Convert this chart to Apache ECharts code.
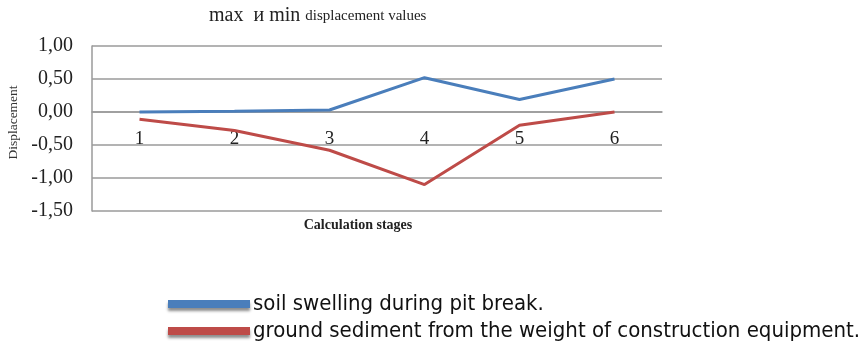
<!DOCTYPE html>
<html>
<head>
<meta charset="utf-8">
<script src="https://cdn.jsdelivr.net/npm/echarts@6/dist/echarts.min.js"></script>
<style>
  html, body { margin: 0; padding: 0; background: #fff; }
  #chart { width: 867px; height: 349px; }
</style>
</head>
<body>
<div id="chart"></div>
<script>
// Calculation stages along the horizontal axis
const stages = ['1', '2', '3', '4', '5', '6'];

// Displacement per stage
const swelling = [0.00, 0.01, 0.03, 0.52, 0.19, 0.50];
const sediment = [-0.11, -0.28, -0.58, -1.10, -0.20, 0.00];

const seriesNames = [
  'soil swelling during pit break.',
  'ground sediment from the weight of construction equipment.'
];

// Vertical axis ticks
const yTicks = [-1.5, -1.0, -0.5, 0.0, 0.5, 1.0];

const serif = '"Liberation Serif", "Times New Roman", serif';
const gridGray = '#9a9a9a';

const gridTop = 46;
const gridBottom = 138;
const chartHeight = 349;
const plotHeight = chartHeight - gridTop - gridBottom;
// lift the category axis from the bottom edge up to the zero line
const yMin = yTicks[0];
const yMax = yTicks[yTicks.length - 1];
const zeroLift = -plotHeight * (0 - yMin) / (yMax - yMin);

const chart = echarts.init(document.getElementById('chart'), null, { renderer: 'canvas' });

chart.setOption({
  animation: false,
  backgroundColor: '#ffffff',
  title: {
    text: '{big|max  и min} {small|displacement values}',
    left: 204,
    top: 1,
    textStyle: {
      rich: {
        big: { fontFamily: serif, fontSize: 20, fontWeight: 'normal', color: '#222' },
        small: { fontFamily: serif, fontSize: 15, fontWeight: 'normal', color: '#222' }
      }
    }
  },
  grid: {
    left: 92, right: 205, top: gridTop, bottom: gridBottom,
    containLabel: false,
    outerBoundsMode: 'none'
  },
  legend: {
    orient: 'vertical',
    left: 168,
    top: 293,
    padding: 0,
    itemGap: 5,
    itemWidth: 82,
    itemHeight: 8,
    icon: 'rect',
    data: seriesNames,
    textStyle: {
      fontFamily: '"Liberation Sans Narrow", "DejaVu Sans Condensed", sans-serif',
      fontSize: 22,
      lineHeight: 20,
      color: '#111',
      padding: [0, 0, 0, -2]
    },
    itemStyle: {
      shadowColor: 'rgba(0,0,0,0.45)',
      shadowBlur: 3,
      shadowOffsetY: 3
    }
  },
  xAxis: {
    type: 'category',
    data: stages,
    boundaryGap: true,
    offset: zeroLift,
    name: 'Calculation stages',
    nameLocation: 'middle',
    nameGap: 106,
    nameTextStyle: {
      fontFamily: serif, fontSize: 14, fontWeight: 'bold', color: '#222',
      padding: [0, 38, 0, 0]
    },
    axisLine: { show: true, onZero: false, lineStyle: { color: gridGray, width: 1.5 } },
    axisTick: { show: false },
    axisLabel: {
      fontFamily: serif, fontSize: 19, color: '#222', margin: 18
    },
    splitLine: { show: false }
  },
  yAxis: {
    type: 'value',
    min: yMin,
    max: yMax,
    interval: 0.5,
    name: 'Displacement',
    nameLocation: 'middle',
    nameGap: 72,
    nameRotate: 90,
    nameTextStyle: {
      fontFamily: serif, fontSize: 13.5, color: '#333',
      padding: [0, 0, 0, 12]
    },
    axisLine: { show: true, lineStyle: { color: gridGray, width: 1.5 } },
    axisTick: { show: false },
    axisLabel: {
      fontFamily: serif, fontSize: 20, color: '#222', margin: 19,
      formatter: v => v.toFixed(2).replace('.', ',')
    },
    splitLine: { show: true, lineStyle: { color: gridGray, width: 1.5 } }
  },
  series: [
    {
      name: seriesNames[0],
      type: 'line',
      data: swelling,
      symbol: 'none',
      lineStyle: { color: '#4a7ebb', width: 3 },
      itemStyle: { color: '#4a7ebb' }
    },
    {
      name: seriesNames[1],
      type: 'line',
      data: sediment,
      symbol: 'none',
      lineStyle: { color: '#be4b48', width: 3 },
      itemStyle: { color: '#be4b48' }
    }
  ]
});
</script>
</body>
</html>
